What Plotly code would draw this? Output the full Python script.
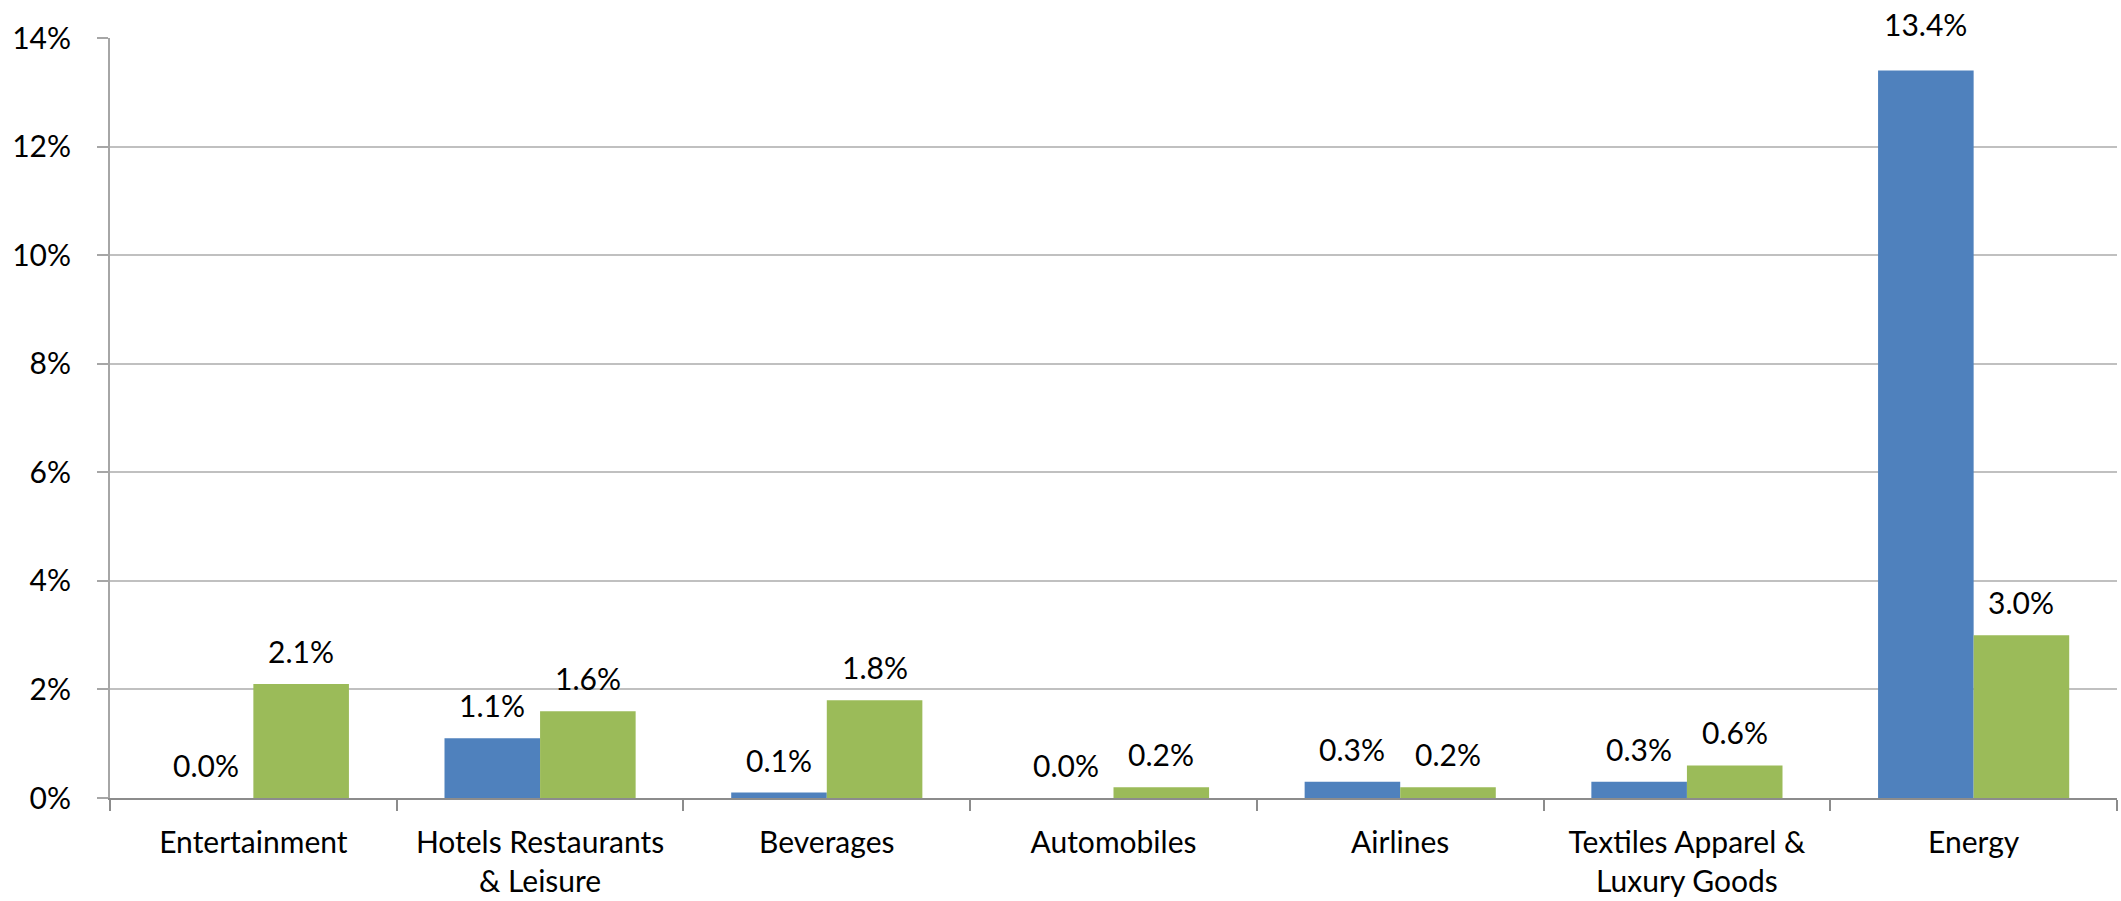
import plotly.graph_objects as go

categories = [
    "Entertainment",
    "Hotels Restaurants<br>& Leisure",
    "Beverages",
    "Automobiles",
    "Airlines",
    "Textiles Apparel &<br>Luxury Goods",
    "Energy",
]
series_a = [0.0, 1.1, 0.1, 0.0, 0.3, 0.3, 13.4]
series_b = [2.1, 1.6, 1.8, 0.2, 0.2, 0.6, 3.0]
y_ticks = [0, 2, 4, 6, 8, 10, 12, 14]
y_tick_labels = [f"{v}%" for v in y_ticks]

BLUE = "#4F81BD"
GREEN = "#9BBB59"
FONT = "Lato"
FONT_SIZE = 30

W, H = 2121, 901
M_L, M_R, M_T, M_B = 110, 4, 38, 103
BARGAP = 1 / 3
Y_MAX = 14

fig = go.Figure()
fig.add_bar(x=categories, y=series_a, marker_color=BLUE, marker_line_width=0, name="A")
fig.add_bar(x=categories, y=series_b, marker_color=GREEN, marker_line_width=0, name="B")

# value labels centred over each bar of the pair; a label near the top
# of the axis is lifted up into the margin
cat_px = (W - M_L - M_R) / len(categories)
bar_px = cat_px * (1 - BARGAP) / 2
for series, sign in ((series_a, -1), (series_b, 1)):
    for cat, val in zip(categories, series):
        lift = 27 if val > 0.9 * Y_MAX else 13
        fig.add_annotation(
            x=cat, y=val, text=f"{val:.1f}%", showarrow=False,
            xshift=sign * bar_px / 2, yshift=lift, yanchor="bottom",
            font=dict(family=FONT, size=FONT_SIZE, color="#000000"),
        )

fig.update_layout(
    width=W, height=H,
    margin=dict(l=M_L, r=M_R, t=M_T, b=M_B),
    plot_bgcolor="white", paper_bgcolor="white",
    barmode="group", bargap=BARGAP, bargroupgap=0,
    showlegend=False,
    font=dict(family=FONT, size=FONT_SIZE, color="#000000"),
)
fig.update_xaxes(
    showline=True, linecolor="#8C8C8C", linewidth=2,
    ticks="outside", ticklen=11, tickcolor="#8C8C8C", tickwidth=2,
    tickson="boundaries", showgrid=False, ticklabelstandoff=17,
    tickfont=dict(family=FONT, size=FONT_SIZE),
)
fig.update_yaxes(
    range=[0, Y_MAX], tickvals=y_ticks, ticktext=y_tick_labels,
    showline=True, linecolor="#A6A6A6", linewidth=2,
    ticks="outside", ticklen=11, tickcolor="#A6A6A6", tickwidth=2,
    showgrid=True, gridcolor="#C0C0C0", gridwidth=2,
    zeroline=False, ticklabelstandoff=20,
    tickfont=dict(family=FONT, size=FONT_SIZE),
)

fig.write_html("out.html")
